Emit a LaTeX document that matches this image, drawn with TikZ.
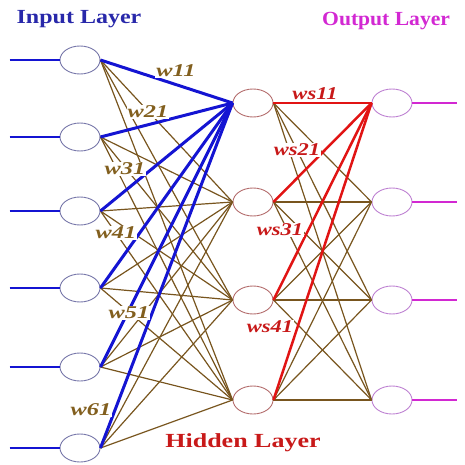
\documentclass[tikz,border=0pt]{standalone}
\usepackage{fontspec}
\setmainfont{Liberation Serif}
\usetikzlibrary{shapes.geometric}
\definecolor{navy}{RGB}{40,40,170}
\definecolor{wireblue}{RGB}{20,20,210}
\definecolor{wirered}{RGB}{225,20,20}
\definecolor{wirebrown}{RGB}{120,85,30}
\definecolor{labbrown}{RGB}{130,95,30}
\definecolor{labred}{RGB}{200,25,25}
\definecolor{outmag}{RGB}{210,40,210}
\definecolor{ringin}{RGB}{120,120,170}
\definecolor{ringhid}{RGB}{180,110,110}
\definecolor{ringout}{RGB}{190,130,210}
\newcommand{\wide}[2]{\scalebox{#1}[1]{#2}}
\begin{document}
\begin{tikzpicture}[x=1pt,y=-1pt,
  cell/.style={ellipse, line width=0.9pt, minimum width=40pt, minimum height=28pt, inner sep=0pt},
  incell/.style={cell, draw=ringin},
  hidcell/.style={cell, draw=ringhid},
  outcell/.style={cell, draw=ringout},
  blueline/.style={draw=wireblue, line width=3pt},
  redline/.style={draw=wirered, line width=2.5pt},
  thinline/.style={draw=wirebrown, line width=1.2pt},
  feedline/.style={draw=wireblue, line width=2.4pt},
  emitline/.style={draw=outmag, line width=2.4pt},
  wlab/.style={font=\fontsize{18}{18}\selectfont\bfseries\itshape, text=labbrown, fill=white, inner sep=1pt},
  wslab/.style={font=\fontsize{18}{18}\selectfont\bfseries\itshape, text=labred, fill=white, inner sep=1pt},
  title/.style={font=\fontsize{20}{20}\selectfont\bfseries}]
\useasboundingbox (0,0) rectangle (465,465);

% layer titles
\node[title, text=navy] (tin) at (79,19) {\wide{1.2}{Input Layer}};
\node[title, text=outmag, anchor=west, inner sep=0pt] (tout) at (322,21) {\wide{1.08}{Output Layer}};
\node[title, text=labred] (thid) at (243,443) {\wide{1.3}{Hidden Layer}};

% input layer
\foreach \i/\y in {1/60,2/137,3/211,4/288,5/367,6/448}
  \node[incell] (i\i) at (80,\y) {};
% hidden layer
\foreach \j/\y in {1/103,2/202,3/300,4/400}
  \node[hidcell] (h\j) at (253,\y) {};
% output layer
\foreach \k/\y in {1/103,2/202,3/300,4/400}
  \node[outcell] (o\k) at (392,\y) {};

% input and output leads
\foreach \i in {1,...,6} {
  \coordinate (a\i) at ([xshift=-50pt]i\i.west);
  \draw[feedline] (a\i) -- (i\i.west);
}
\foreach \k in {1,...,4} {
  \coordinate (b\k) at ([xshift=45pt]o\k.east);
  \draw[emitline] (o\k.east) -- (b\k);
}

% thin connections
\foreach \i in {1,...,6}
  \foreach \j in {2,3,4}
    \draw[thinline] (i\i.east) -- (h\j.west);
\foreach \j in {1,...,4}
  \foreach \k in {2,3,4}
    \draw[thinline] (h\j.east) -- (o\k.west);

% highlighted connections
\foreach \i in {1,...,6}
  \draw[blueline] (i\i.east) -- (h1.west);
\foreach \j in {1,...,4}
  \draw[redline] (h\j.east) -- (o1.west);

% weight labels
\node[wlab] (w11) at (176,71) {\wide{1.35}{w11}};
\node[wlab] (w21) at (148,112) {\wide{1.35}{w21}};
\node[wlab] (w31) at (125,169) {\wide{1.35}{w31}};
\node[wlab] (w41) at (116,233) {\wide{1.35}{w41}};
\node[wlab] (w51) at (129,313) {\wide{1.35}{w51}};
\node[wlab] (w61) at (91,410) {\wide{1.35}{w61}};
\node[wslab] (ws11) at (315,94) {\wide{1.25}{ws11}};
\node[wslab] (ws21) at (297,150) {\wide{1.25}{ws21}};
\node[wslab] (ws31) at (280,230) {\wide{1.25}{ws31}};
\node[wslab] (ws41) at (270,327) {\wide{1.25}{ws41}};
\end{tikzpicture}
\end{document}
